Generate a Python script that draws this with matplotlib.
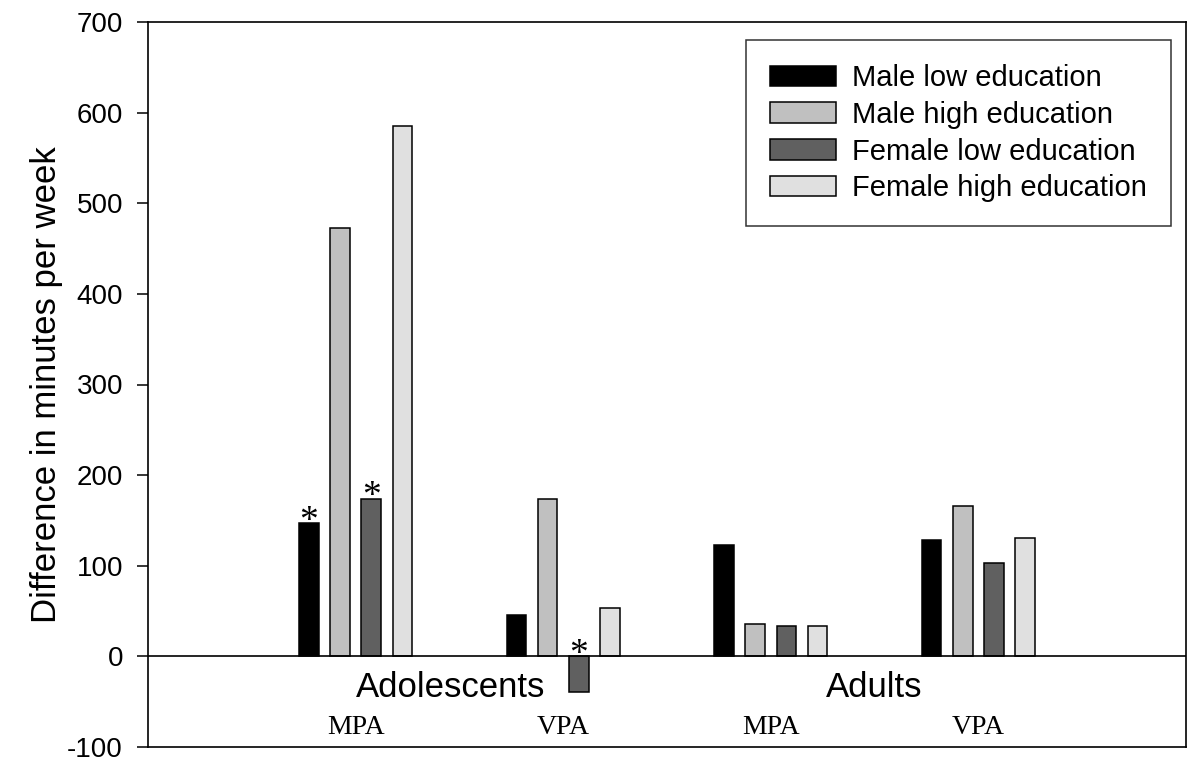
# Physical activity difference chart
import numpy as np
import matplotlib.pyplot as plt
import matplotlib.transforms as mtransforms

# Data
groups = ["MPA", "VPA", "MPA", "VPA"]
age_groups = ["Adolescents", "Adults"]
series = [
    "Male low education",
    "Male high education",
    "Female low education",
    "Female high education"
]
male_low = [147, 46, 123, 128]
male_high = [473, 174, 36, 166]
female_low = [174, -39, 34, 103]
female_high = [585, 53, 34, 131]
# significant bars (series index, group index)
stars = [(0, 0), (2, 0), (2, 1)]

colors = ["#000000", "#c0c0c0", "#606060", "#e0e0e0"]
values = [male_low, male_high, female_low, female_high]

sans = ["Liberation Sans", "DejaVu Sans"]
serif = ["Liberation Serif", "DejaVu Serif"]
plt.rcParams["font.family"] = sans
plt.rcParams["axes.unicode_minus"] = False

fig = plt.figure(figsize=(12, 7.7), dpi=100)
ax = fig.add_axes([148 / 1200, 23 / 770, 1038 / 1200, 725 / 770])

x = np.arange(len(groups))
offsets = [-0.225, -0.075, 0.075, 0.225]
width = 0.094

for i in range(len(series)):
    ax.bar(
        x + offsets[i],
        values[i],
        width,
        color=colors[i],
        edgecolor="black",
        linewidth=1.1,
        label=series[i],
        zorder=2
    )

# Asterisks
for s, g in stars:
    top = max(values[s][g], 0)
    ax.annotate(
        "*",
        xy=(x[g] + offsets[s], top),
        xytext=(0, -5.5),
        textcoords="offset points",
        ha="center",
        va="baseline",
        fontsize=27,
        family=serif
    )

ax.axhline(0, color="black", linewidth=1.2, zorder=3)

ax.set_xlim(-1, 4)
ax.set_ylim(-100, 700)
ax.set_yticks(np.arange(-100, 701, 100))
ax.set_xticks([])
ax.tick_params(axis="y", direction="out", length=8, width=1.1,
               pad=10, labelsize=20)
for sp in ax.spines.values():
    sp.set_linewidth(1.2)

ax.set_ylabel("Difference in minutes per week", fontsize=25)
ax.yaxis.set_label_coords(-0.082, 0.5)

# Group labels
trans = mtransforms.blended_transform_factory(ax.transData, ax.transAxes)
for i in range(len(groups)):
    ax.text(x[i], 0.018, groups[i], transform=trans, ha="center",
            va="baseline", fontsize=20, family=serif)
age_pos = [0.46, 2.5]
for i in range(len(age_groups)):
    ax.text(age_pos[i], 0.069, age_groups[i], transform=trans,
            ha="center", va="baseline", fontsize=25)

# Legend
leg = ax.legend(
    loc="upper right",
    bbox_to_anchor=(0.9855, 0.975),
    borderaxespad=0,
    fontsize=21,
    frameon=True,
    fancybox=False,
    handlelength=2.28,
    handleheight=0.7,
    handletextpad=0.55,
    labelspacing=0.3,
    borderpad=0.82
)
leg.get_frame().set_edgecolor("black")
leg.get_frame().set_linewidth(1.1)

plt.savefig("out.png", dpi=100)
